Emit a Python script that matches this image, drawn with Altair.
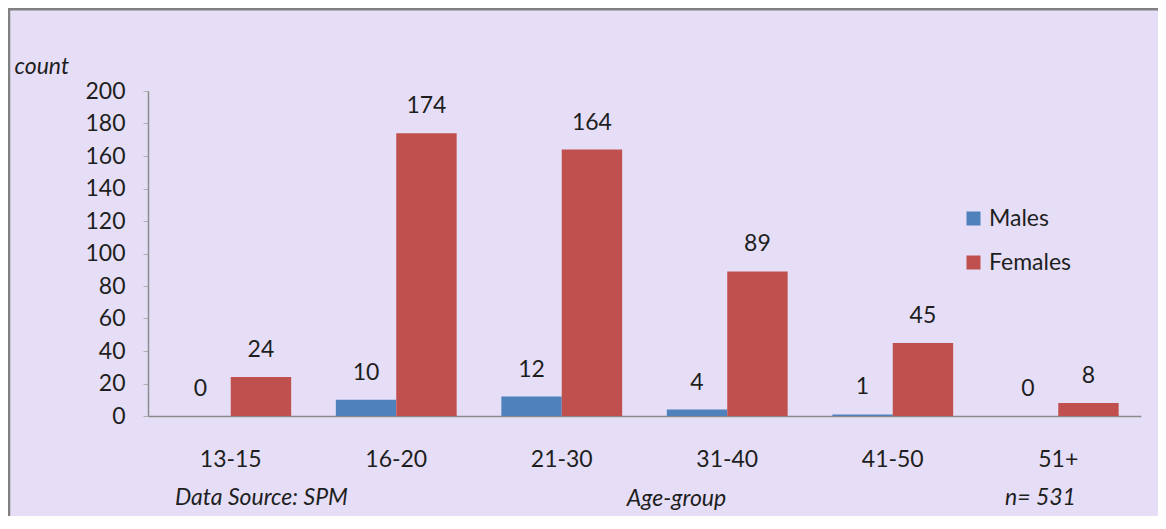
import altair as alt
import pandas as pd

age_groups = ["13-15", "16-20", "21-30", "31-40", "41-50", "51+"]
males = [0, 10, 12, 4, 1, 0]
females = [24, 174, 164, 89, 45, 8]
series = ["Males", "Females"]
colors = ["#4F81BD", "#C0504D"]
y_ticks = [0, 20, 40, 60, 80, 100, 120, 140, 160, 180, 200]
source_note = ["Data Source: SPM"]
n_note = ["n= 531"]

rows = []
for i, a in enumerate(age_groups):
    rows.append({"age": a, "sex": "Males", "count": males[i]})
    rows.append({"age": a, "sex": "Females", "count": females[i]})
df = pd.DataFrame(rows)

FONT = "Lato"
TXT = "#1e1e1e"
FS = 23

x = alt.X(
    "age:N", sort=age_groups,
    scale=alt.Scale(paddingInner=0.27, paddingOuter=0.135),
    axis=alt.Axis(
        title="Age-group", labelAngle=0, labelPadding=32, ticks=False,
        domainColor="#8c8c8c", domainWidth=1.5,
        titleX=528, titleY=82, titleAlign="center", titleBaseline="middle",
        titleFontStyle="italic", titleFontWeight="normal",
    ),
)
xo = alt.XOffset("sex:N", sort=series, scale=alt.Scale(domain=series))
y = alt.Y(
    "count:Q",
    scale=alt.Scale(domain=[0, 200], nice=False),
    axis=alt.Axis(
        values=y_ticks, grid=False, title="count", titleAngle=0,
        titleAlign="left", titleX=-134, titleY=-25, titleBaseline="middle",
        titleFontStyle="italic", titleFontWeight="normal",
        labelPadding=18, tickSize=5, tickColor="#b0b0b0",
        domainColor="#8c8c8c", domainWidth=1.5,
    ),
)
color = alt.Color(
    "sex:N", sort=series,
    scale=alt.Scale(domain=series, range=colors),
    legend=alt.Legend(
        title=None, orient="none", legendX=814, legendY=116,
        symbolType="square", symbolSize=196, symbolStrokeWidth=0,
        symbolOpacity=1, labelFontSize=FS, labelFont=FONT, labelColor=TXT,
        rowPadding=20, labelOffset=4,
    ),
)

base = alt.Chart(df)
bars = base.mark_bar().encode(x=x, xOffset=xo, y=y, color=color)
labels = base.mark_text(
    dy=-20, baseline="alphabetic", fontSize=FS, font=FONT, color=TXT
).encode(x=x, xOffset=xo, y=y, text="count:Q")

note1 = alt.Chart(pd.DataFrame({"t": source_note})).mark_text(
    align="left", baseline="middle", fontSize=FS, font=FONT,
    fontStyle="italic", color=TXT
).encode(x=alt.value(27), y=alt.value(407), text="t:N")
note2 = alt.Chart(pd.DataFrame({"t": n_note})).mark_text(
    align="left", baseline="middle", fontSize=FS, font=FONT,
    fontStyle="italic", color=TXT
).encode(x=alt.value(857), y=alt.value(407), text="t:N")

dummy = pd.DataFrame({"d": [0]})
top_border = alt.Chart(dummy).mark_rule(color="#808080", strokeWidth=3).encode(
    x=alt.value(-140), x2=alt.value(1010), y=alt.value(-82)
)
left_border = alt.Chart(dummy).mark_rule(color="#808080", strokeWidth=2.5).encode(
    x=alt.value(-139), y=alt.value(-83), y2=alt.value(430)
)

chart = alt.layer(bars, labels, note1, note2, top_border, left_border).properties(
    width=993, height=325,
    padding={"left": 140, "top": 83, "right": 17, "bottom": 100},
    autosize=alt.AutoSizeParams(type="none"),
    background="#E6DEF7",
).configure_view(strokeWidth=0).configure_axis(
    labelFont=FONT, titleFont=FONT, labelFontSize=FS, titleFontSize=FS,
    labelColor=TXT, titleColor=TXT,
)

chart.save("out.html", embed_options={"renderer": "svg", "actions": False})
